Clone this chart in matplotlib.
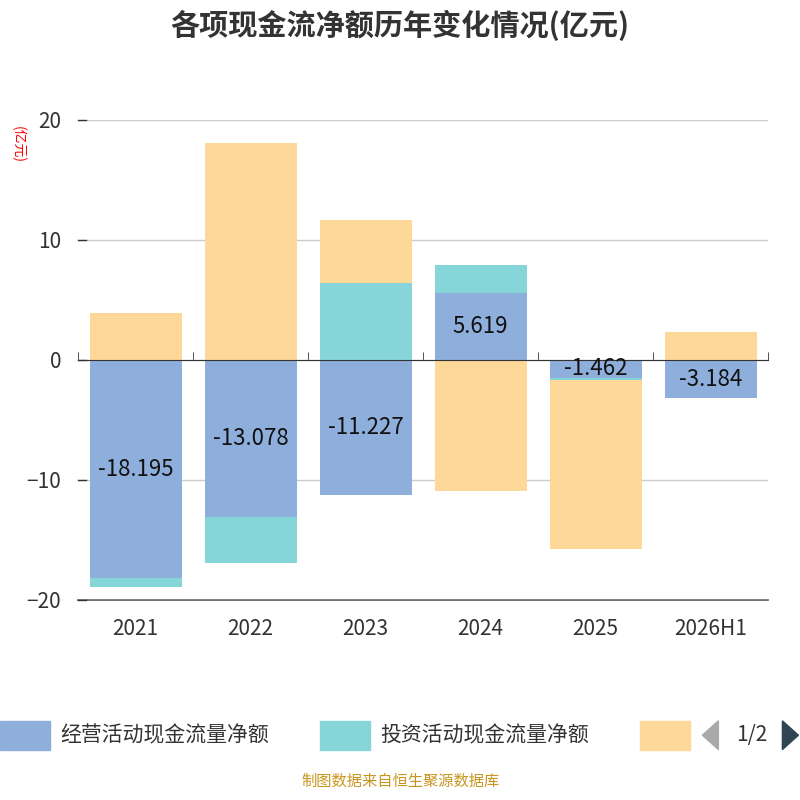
import matplotlib.pyplot as plt
import numpy as np
from matplotlib.patches import Polygon

plt.rcParams['font.family'] = ['Noto Sans CJK SC', 'DejaVu Sans']

years = ['2021', '2022', '2023', '2024', '2025', '2026H1']
op = [-18.195, -13.078, -11.227, 5.619, -1.462, -3.184]
inv = [-0.7, -3.8, 6.4, 2.3, -0.2, 0.0]
fin = [3.9, 18.1, 5.3, -10.9, -14.1, 2.3]
series = [op, inv, fin]
colors = ['#8eaedb', '#86d5d8', '#fed898']
names = ['经营活动现金流量净额', '投资活动现金流量净额', '']

fig = plt.figure(figsize=(8, 8), dpi=100)
ax = fig.add_axes([0.0975, 0.25, 0.8625, 0.60])
x = np.arange(len(years))
pos = np.zeros(len(years))
neg = np.zeros(len(years))
for vals, c in zip(series, colors):
    v = np.array(vals)
    base = np.where(v >= 0, pos, neg)
    ax.bar(x, v, bottom=base, width=0.8, color=c, zorder=2)
    pos = pos + np.where(v >= 0, v, 0)
    neg = neg + np.where(v < 0, v, 0)

for i, v in enumerate(op):
    ax.text(i, v / 2, f'{v:.3f}', ha='center', va='center', fontsize=16, color='#111111', zorder=3)

ax.set_xlim(-0.5, len(years) - 0.5)
ax.set_ylim(-20, 20)
ax.set_yticks([-20, -10, 0, 10, 20])
ax.yaxis.grid(True, color='#cccccc', lw=1, zorder=0)
for s in ['top', 'right', 'left']:
    ax.spines[s].set_visible(False)
ax.spines['bottom'].set_position(('data', 0))
ax.spines['bottom'].set_color('#333333')
ax.set_xticks(x)
ax.set_xticklabels(years, fontsize=15, color='#333333')
ax.tick_params(axis='x', length=0, pad=186)
ax.set_xticks(np.arange(len(years) + 1) - 0.5, minor=True)
ax.tick_params(axis='x', which='minor', length=6, direction='in', color='#333333')
ax.tick_params(axis='y', length=0, labelsize=15, labelcolor='#333333', pad=12)
ax.axhline(-20, color='#555555', lw=1.2, zorder=1, clip_on=False)
for yv in [-20, -10, 0, 10, 20]:
    ax.plot([-0.5, -0.43], [yv, yv], color='#333333', lw=1, clip_on=False, zorder=3)

fig.text(0.5, 0.968, '各项现金流净额历年变化情况(亿元)', ha='center', va='center',
         fontsize=21, fontweight='bold', color='#333333')
fig.text(0.022, 0.82, '(亿元)', rotation=-90, ha='center', va='center', fontsize=10, color='red')

# legend
ly = 0.081
for lx, c, n in [(0.0, colors[0], names[0]), (0.40, colors[1], names[1]), (0.80, colors[2], '')]:
    fig.patches.append(plt.Rectangle((lx, ly - 0.018), 0.0625, 0.036, transform=fig.transFigure,
                                     color=c, figure=fig))
    if n:
        fig.text(lx + 0.075, ly, n, fontsize=15, color='#333333', va='center')
fig.patches.append(Polygon([[0.878, 0.081], [0.898, 0.099], [0.898, 0.063]], closed=True,
                           transform=fig.transFigure, color='#aaaaaa', figure=fig))
fig.text(0.94, 0.081, '1/2', fontsize=15, color='#333333', va='center', ha='center')
fig.patches.append(Polygon([[0.978, 0.099], [0.998, 0.081], [0.978, 0.063]], closed=True,
                           transform=fig.transFigure, color='#2f4554', figure=fig))
fig.text(0.5, 0.024, '制图数据来自恒生聚源数据库', ha='center', va='center', fontsize=11, color='#c8961e')

fig.savefig('out.png')
